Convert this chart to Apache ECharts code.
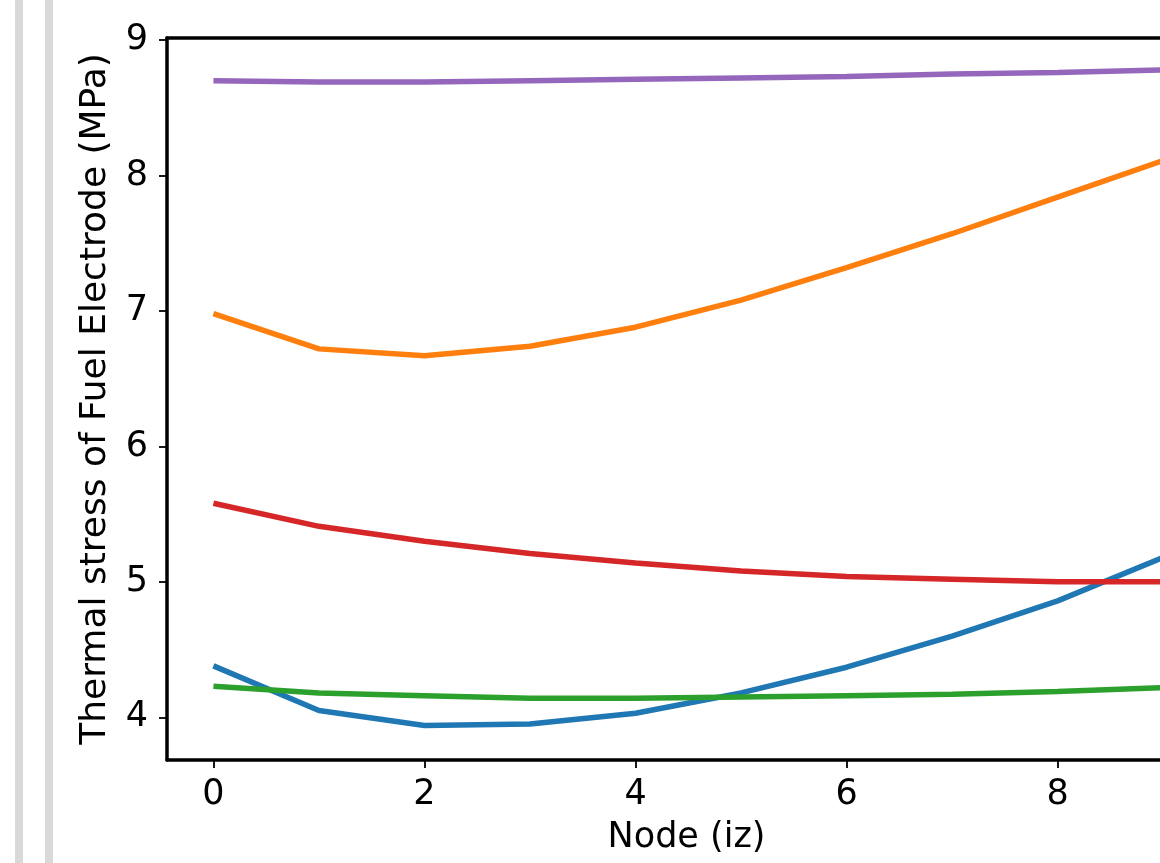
<!DOCTYPE html>
<html>
<head>
<meta charset="utf-8">
<script src="https://cdn.jsdelivr.net/npm/echarts@6/dist/echarts.min.js"></script>
<style>
  html, body { margin: 0; padding: 0; background: #fff; }
  #chart { width: 1160px; height: 863px; }
</style>
</head>
<body>
<div id="chart"></div>
<script>
// node index along the cell
var nodes = [0, 1, 2, 3, 4, 5, 6, 7, 8, 9];
// thermal stress (MPa), one list per case
var stressBlue   = [4.38, 4.05, 3.94, 3.95, 4.03, 4.18, 4.37, 4.60, 4.86, 5.18];
var stressOrange = [6.98, 6.72, 6.67, 6.74, 6.88, 7.08, 7.32, 7.57, 7.84, 8.11];
var stressGreen  = [4.23, 4.18, 4.16, 4.14, 4.14, 4.15, 4.16, 4.17, 4.19, 4.22];
var stressRed    = [5.58, 5.41, 5.30, 5.21, 5.14, 5.08, 5.04, 5.02, 5.00, 5.00];
var stressPurple = [8.70, 8.69, 8.69, 8.70, 8.71, 8.72, 8.73, 8.75, 8.76, 8.78];
var xTicks = [0, 2, 4, 6, 8];
var yTicks = [4, 5, 6, 7, 8, 9];

var chart = echarts.init(document.getElementById('chart'));
var font = 'DejaVu Sans';

function pairs(arr) {
  return nodes.map(function (n, i) { return [n, arr[i]]; });
}
function line(name, color, arr) {
  return {
    name: name,
    type: 'line',
    data: pairs(arr),
    showSymbol: false,
    clip: true,
    lineStyle: { color: color, width: 5.5 },
    itemStyle: { color: color },
    animation: false
  };
}

// the original plot is cut off at the right edge of the picture
var xMin = -0.44, xMax = 8.97;

var option = {
  animation: false,
  graphic: [
    { type: 'rect', left: 15, top: 0, shape: { width: 8, height: 863 }, style: { fill: '#d9d9d9' } },
    { type: 'rect', left: 45, top: 0, shape: { width: 8, height: 863 }, style: { fill: '#d9d9d9' } }
  ],
  grid: { left: 167, top: 38, right: 0, height: 722, containLabel: false },
  xAxis: [{
    type: 'value',
    min: xMin,
    max: xMax,
    name: 'Node (iz)',
    nameLocation: 'middle',
    nameGap: 60,
    nameTextStyle: { fontFamily: font, fontSize: 35, color: '#000', padding: [0, 0, 0, 46] },
    axisLine: { show: true, lineStyle: { color: '#000', width: 3.5 } },
    axisTick: { show: true, length: 8, customValues: xTicks, lineStyle: { color: '#000', width: 1.8 } },
    axisLabel: { customValues: xTicks, fontFamily: font, fontSize: 35, color: '#000', margin: 17 },
    splitLine: { show: false }
  }, {
    type: 'value',
    position: 'top',
    min: xMin,
    max: xMax,
    axisLine: { show: true, onZero: false, lineStyle: { color: '#000', width: 3.5 } },
    axisTick: { show: false },
    axisLabel: { show: false },
    splitLine: { show: false }
  }],
  yAxis: {
    type: 'value',
    min: 3.685,
    max: 9.015,
    name: 'Thermal stress of Fuel Electrode (MPa)',
    nameLocation: 'middle',
    nameGap: 53,
    nameRotate: 90,
    nameTextStyle: { fontFamily: font, fontSize: 36, color: '#000' },
    axisLine: { show: true, onZero: false, lineStyle: { color: '#000', width: 3.5 } },
    axisTick: { show: true, length: 8, customValues: yTicks, lineStyle: { color: '#000', width: 1.8 } },
    axisLabel: { customValues: yTicks, fontFamily: font, fontSize: 35, color: '#000', margin: 19 },
    splitLine: { show: false }
  },
  series: [
    line('case 1', '#1f77b4', stressBlue),
    line('case 2', '#ff7f0e', stressOrange),
    line('case 3', '#2ca02c', stressGreen),
    line('case 4', '#d62728', stressRed),
    line('case 5', '#9467bd', stressPurple)
  ]
};

chart.setOption(option);
</script>
</body>
</html>
